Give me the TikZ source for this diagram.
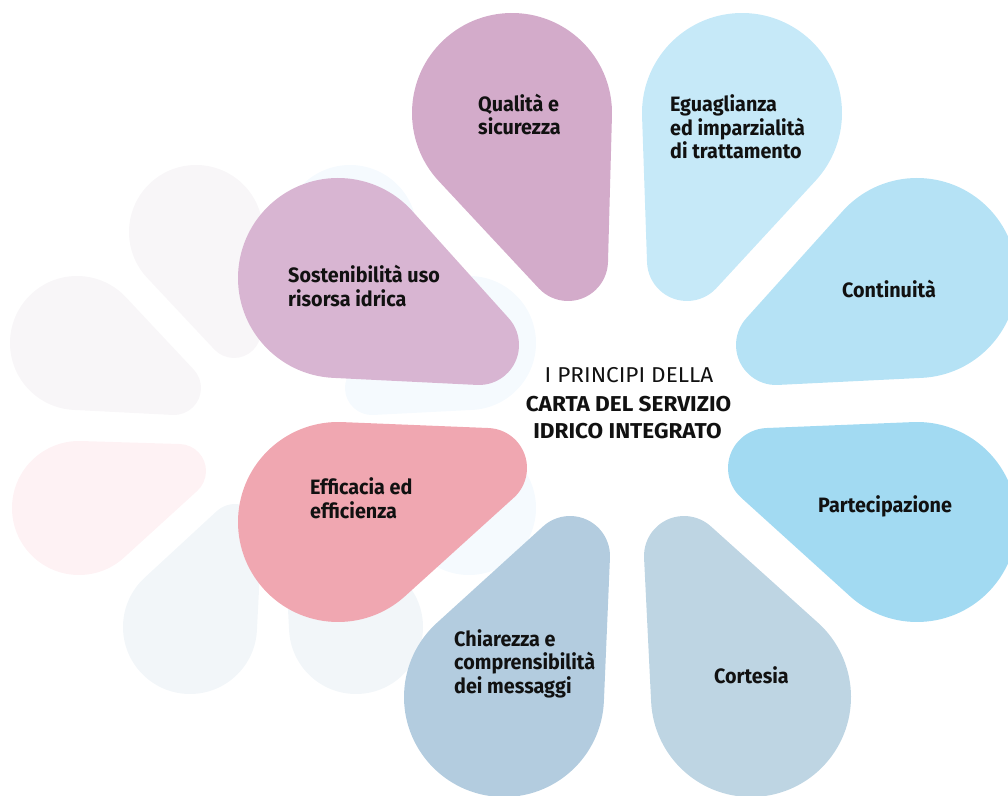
\documentclass[tikz,border=0pt]{standalone}
\usepackage{fontspec}
\setmainfont{Fira Sans}[FakeStretch=0.95]
\newfontfamily\titlefont{Fira Sans}[FakeStretch=1.05]
\definecolor{cQual}{HTML}{D3ABCA}
\definecolor{cEgu}{HTML}{C6E9F8}
\definecolor{cCont}{HTML}{B5E2F5}
\definecolor{cPart}{HTML}{A2DAF2}
\definecolor{cCort}{HTML}{BED5E3}
\definecolor{cChia}{HTML}{B3CCDF}
\definecolor{cEffi}{HTML}{F0A7B1}
\definecolor{cSost}{HTML}{D8B5D2}
\definecolor{gPurple}{HTML}{F8F6F8}
\definecolor{gPink}{HTML}{FEF2F4}
\definecolor{gGrey}{HTML}{F2F6F9}
\definecolor{gBlue}{HTML}{F5FAFE}
\definecolor{txt}{HTML}{111111}
% #1 style, #2 Bx, #3 By, #4 Tx, #5 Ty (image px, y down), #6 R, #7 r
\newcommand\petal[7]{%
  \pgfmathsetmacro\pbx{#2}\pgfmathsetmacro\pby{795-#3}%
  \pgfmathsetmacro\ptx{#4}\pgfmathsetmacro\pty{795-#5}%
  \pgfmathsetmacro\pal{atan2(\pty-\pby,\ptx-\pbx)}%
  \pgfmathsetmacro\pd{veclen(\ptx-\pbx,\pty-\pby)}%
  \pgfmathsetmacro\pbe{acos((#6-#7)/\pd)}%
  \fill[#1] ({\pbx+#6*cos(\pal+\pbe)},{\pby+#6*sin(\pal+\pbe)})
    -- ({\ptx+#7*cos(\pal+\pbe)},{\pty+#7*sin(\pal+\pbe)})
    arc[start angle=\pal+\pbe, end angle=\pal-\pbe, radius=#7]
    -- ({\pbx+#6*cos(\pal-\pbe)},{\pby+#6*sin(\pal-\pbe)})
    arc[start angle=\pal-\pbe, end angle=\pal+\pbe-360, radius=#6] -- cycle;}
\tikzset{
  lbl/.style={font=\bfseries\fontsize{20.8}{23.5}\selectfont, align=left, anchor=base west, inner sep=0pt, text=txt},
  ttl/.style={font=\titlefont\fontsize{21.5}{27.5}\selectfont, anchor=base, inner sep=0pt, text=txt},
  ttlb/.style={ttl, font=\titlefont\bfseries\fontsize{21.5}{27.5}\selectfont}
}
\begin{document}
\begin{tikzpicture}[x=1pt,y=1pt]
\useasboundingbox (0,0) rectangle (1008,795);
\clip (0,0) rectangle (1008,795);
% ghost flower
\petal{gPurple}{196}{232}{234}{331}{67}{27}
\petal{gPurple}{77}{343}{174}{388}{67}{27}
\petal{gPink}{79}{508}{179}{471}{67}{27}
\petal{gGrey}{190}{627}{235}{531}{67}{27}
\petal{gGrey}{356}{627}{311}{531}{67}{27}
\petal{gBlue}{469}{508}{367}{471}{67}{27}
\petal{gBlue}{469}{343}{372}{388}{67}{27}
\petal{gBlue}{350}{232}{312}{331}{67}{27}
% main flower
\petal{cQual}{512}{113}{568}{261}{100}{40}
\petal{cEgu}{742}{113}{687}{261}{100}{40}
\petal{cCont}{917}{278}{776}{345}{100}{40}
\petal{cPart}{917}{522}{768}{468}{100}{40}
\petal{cCort}{751}{697}{684}{556}{100}{40}
\petal{cChia}{504}{697}{570}{556}{100}{40}
\petal{cSost}{338}{278}{479}{345}{100}{40}
\petal{cEffi}{338}{522}{487}{468}{100}{40}
% labels (anchor = baseline of last line)
\node[lbl] (qual) at (478,{795-135}) {Qualità e\\sicurezza};
\node[lbl] (egu) at (670,{795-159}) {Eguaglianza\\ed imparzialità\\di trattamento};
\node[lbl] (cont) at (842,{795-298}) {Continuità};
\node[lbl] (part) at (818,{795-513}) {Partecipazione};
\node[lbl] (cort) at (714,{795-683}) {Cortesia};
\node[lbl] (chia) at (454,{795-693}) {Chiarezza e\\comprensibilità\\dei messaggi};
\node[lbl] (effi) at (310,{795-518.5}) {Efficacia ed\\efficienza};
\node[lbl] (sost) at (288,{795-306.5}) {Sostenibilità uso\\risorsa idrica};
\node[ttl] (t1) at (629,{795-383}) {I PRINCIPI DELLA};
\node[ttlb] (t2) at (628.5,{795-411.5}) {CARTA DEL SERVIZIO};
\node[ttlb] (t3) at (627.5,{795-438.5}) {IDRICO INTEGRATO};
\end{tikzpicture}
\end{document}
